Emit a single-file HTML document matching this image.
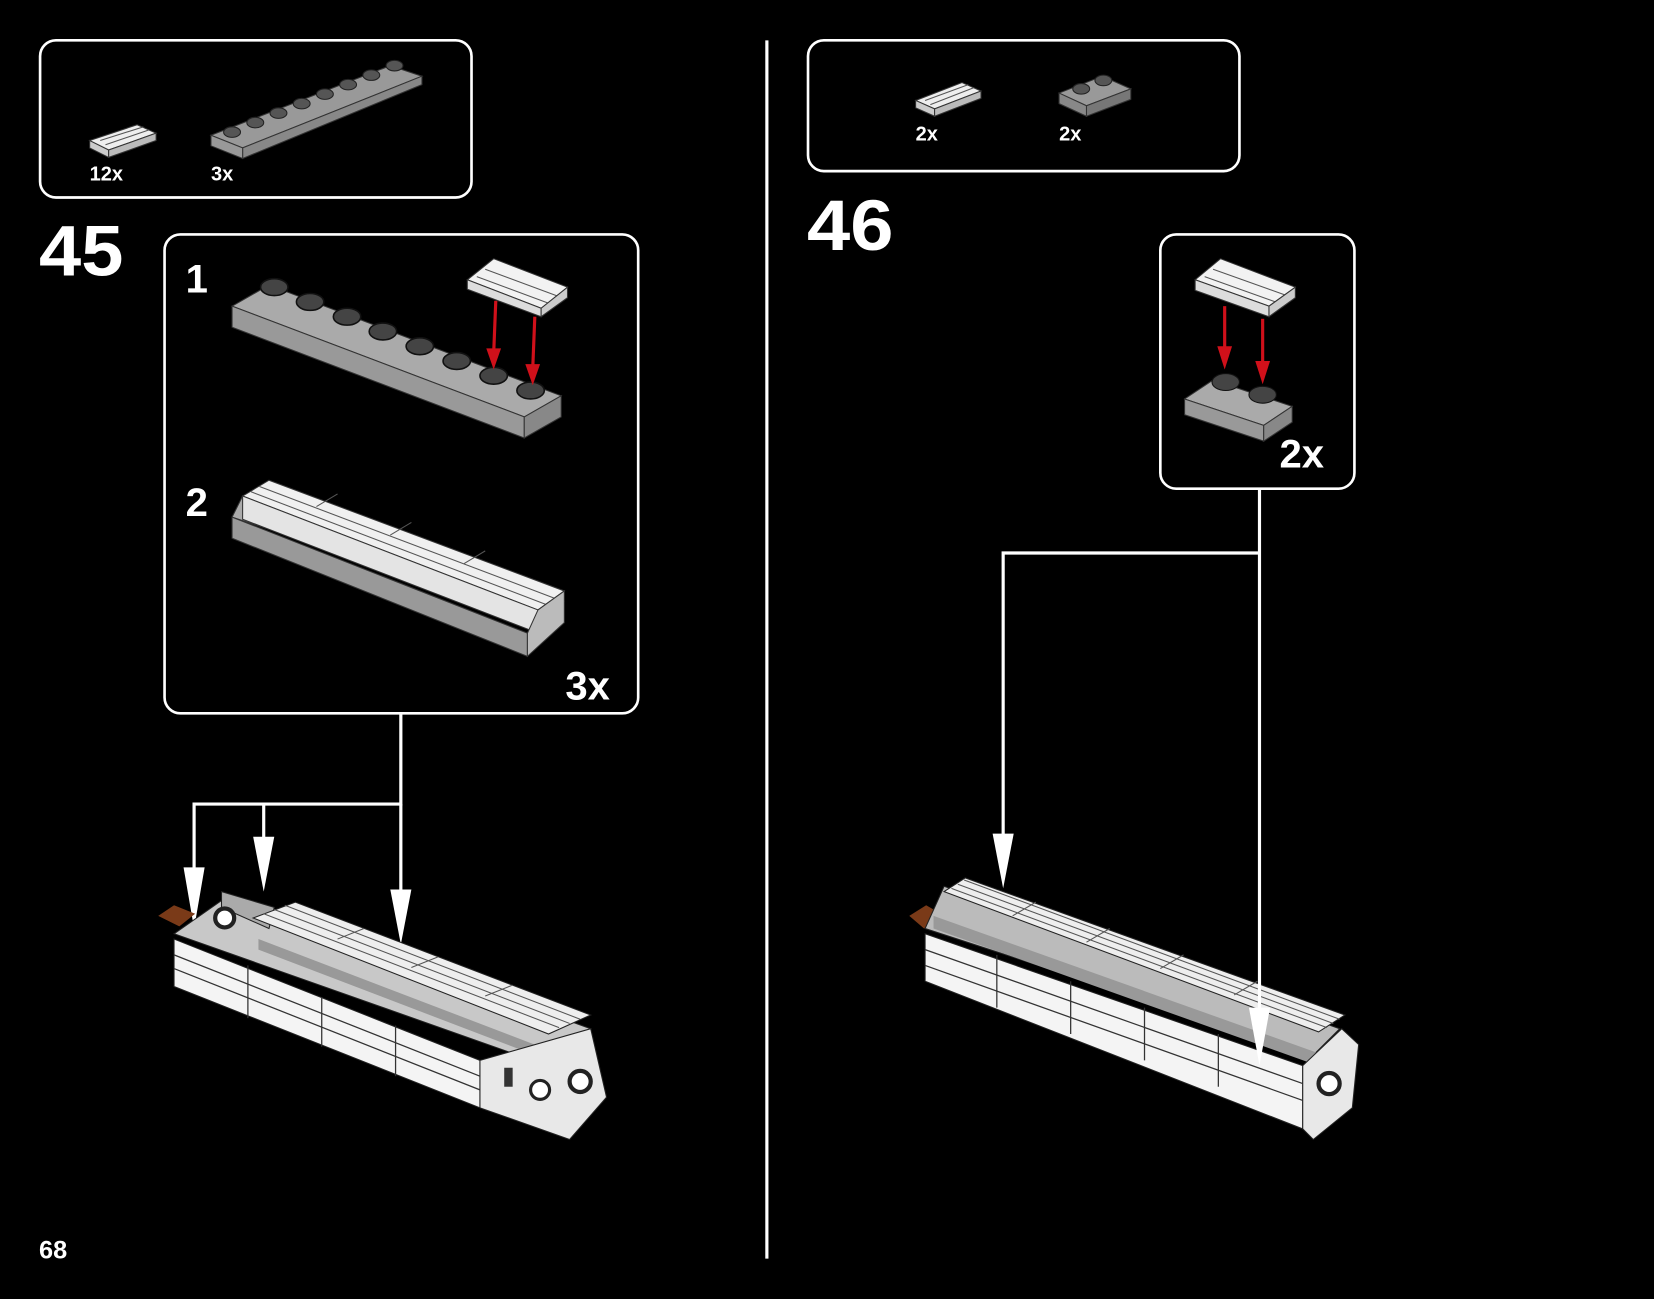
<!DOCTYPE html>
<html><head><meta charset="utf-8"><style>
html,body{margin:0;padding:0;background:#000;}
svg{display:block}
text{font-family:"Liberation Sans",sans-serif;font-weight:bold;fill:#fff}
</style></head><body>
<svg width="1654" height="1299" viewBox="0 0 1568 1231" xmlns="http://www.w3.org/2000/svg">
<rect width="1568" height="1231" fill="#000"/>
<line x1="727" y1="38" x2="727" y2="1193" stroke="#fff" stroke-width="3"/>
<!-- left parts box -->
<rect x="38" y="38" width="409" height="149" rx="15" fill="none" stroke="#fff" stroke-width="2.5"/>
<polygon points="85,133 130,118 148,126 103,142" fill="#eee" stroke="#333"/>
<g stroke="#555" stroke-width="1"><line x1="95" y1="133" x2="136" y2="120"/><line x1="100" y1="137" x2="141" y2="123"/></g>
<polygon points="85,133 103,142 103,149 85,140" fill="#ccc" stroke="#333"/>
<polygon points="103,142 148,126 148,133 103,149" fill="#bbb" stroke="#333"/>
<text x="85" y="171" font-size="19">12x</text>
<polygon points="200,128 370,62 400,72 230,140" fill="#999" stroke="#333"/>
<polygon points="230,140 400,72 400,80 230,150" fill="#888" stroke="#333"/>
<polygon points="200,128 230,140 230,150 200,138" fill="#999" stroke="#333"/>
<g fill="#555" stroke="#222"><ellipse cx="220" cy="125" rx="8" ry="5"/><ellipse cx="242" cy="116" rx="8" ry="5"/><ellipse cx="264" cy="107" rx="8" ry="5"/><ellipse cx="286" cy="98" rx="8" ry="5"/><ellipse cx="308" cy="89" rx="8" ry="5"/><ellipse cx="330" cy="80" rx="8" ry="5"/><ellipse cx="352" cy="71" rx="8" ry="5"/><ellipse cx="374" cy="62" rx="8" ry="5"/></g>
<text x="200" y="171" font-size="19">3x</text>
<text x="37" y="261" font-size="68" textLength="80" lengthAdjust="spacingAndGlyphs">45</text>
<!-- step box -->
<rect x="156" y="222" width="449" height="454" rx="15" fill="none" stroke="#fff" stroke-width="2.5"/>
<text x="176" y="277" font-size="38">1</text>
<text x="176" y="489" font-size="38">2</text>
<polygon points="220,290 255,270 532,375 497,395" fill="#aaa" stroke="#333"/>
<polygon points="220,290 497,395 497,415 220,310" fill="#999" stroke="#333"/>
<polygon points="497,395 532,375 532,395 497,415" fill="#888" stroke="#333"/>
<g fill="#444" stroke="#111" stroke-width="1.5"><ellipse cx="260" cy="272" rx="13" ry="8"/><ellipse cx="294" cy="286" rx="13" ry="8"/><ellipse cx="329" cy="300" rx="13" ry="8"/><ellipse cx="363" cy="314" rx="13" ry="8"/><ellipse cx="398" cy="328" rx="13" ry="8"/><ellipse cx="433" cy="342" rx="13" ry="8"/><ellipse cx="468" cy="356" rx="13" ry="8"/><ellipse cx="503" cy="370" rx="13" ry="8"/></g>
<polygon points="443,265 468,245 538,272 513,292" fill="#f2f2f2" stroke="#333"/>
<g stroke="#555"><line x1="452" y1="262" x2="522" y2="288"/><line x1="460" y1="255" x2="530" y2="281"/></g>
<polygon points="443,265 513,292 513,300 443,274" fill="#ddd" stroke="#333"/>
<polygon points="513,292 538,272 538,282 513,300" fill="#ccc" stroke="#333"/>
<g stroke="#d0101a" stroke-width="3"><line x1="470" y1="285" x2="468" y2="335"/><line x1="507" y1="300" x2="505" y2="350"/></g>
<polygon points="461,330 475,330 468,350" fill="#d0101a"/><polygon points="498,345 512,345 505,365" fill="#d0101a"/>
<polygon points="220,490 230,470 535,570 525,590" fill="#aaa" stroke="#333"/>
<polygon points="220,490 500,600 500,622 220,510" fill="#999" stroke="#333"/>
<polygon points="230,470 255,455 535,560 510,578" fill="#f0f0f0" stroke="#333"/>
<g stroke="#555"><line x1="238" y1="466" x2="518" y2="573"/><line x1="246" y1="461" x2="526" y2="567"/><line x1="300" y1="480" x2="320" y2="468"/><line x1="370" y1="507" x2="390" y2="495"/><line x1="440" y1="534" x2="460" y2="522"/></g>
<polygon points="230,470 510,578 510,600 230,492" fill="#e4e4e4" stroke="#333"/>
<polygon points="510,578 535,560 535,590 500,622 500,600" fill="#bbb" stroke="#333"/>
<text x="536" y="663" font-size="38">3x</text>
<g stroke="#fff" stroke-width="3" fill="none"><polyline points="380,676 380,762 184,762 184,860"/><line x1="250" y1="762" x2="250" y2="825"/><line x1="380" y1="762" x2="380" y2="875"/></g>
<g fill="#fff"><polygon points="174,822 194,822 184,880"/><polygon points="240,793 260,793 250,845"/><polygon points="370,843 390,843 380,895"/></g>
<!-- left model -->
<polygon points="150,868 165,858 185,866 170,878" fill="#7a3a18"/>
<polygon points="165,885 215,850 560,975 505,1005" fill="#c8c8c8" stroke="#222"/>
<polygon points="210,845 260,860 255,880 210,860" fill="#aaa" stroke="#222"/>
<polygon points="240,870 280,855 560,962 520,980" fill="#eee" stroke="#222"/>
<g stroke="#555"><line x1="250" y1="866" x2="530" y2="974"/><line x1="260" y1="862" x2="540" y2="970"/><line x1="270" y1="858" x2="550" y2="966"/><line x1="320" y1="890" x2="345" y2="880"/><line x1="390" y1="917" x2="415" y2="907"/><line x1="460" y1="944" x2="485" y2="934"/></g>
<polygon points="245,890 520,995 520,1005 245,900" fill="#999"/>
<polygon points="165,890 455,1005 455,1050 165,935" fill="#f4f4f4" stroke="#222"/>
<polygon points="455,1005 560,975 575,1040 540,1080 455,1050" fill="#e8e8e8" stroke="#222"/>
<g stroke="#333" stroke-width="1.2"><line x1="165" y1="905" x2="455" y2="1020"/><line x1="165" y1="918" x2="455" y2="1033"/><line x1="235" y1="915" x2="235" y2="965"/><line x1="305" y1="945" x2="305" y2="992"/><line x1="375" y1="972" x2="375" y2="1020"/></g>
<rect x="478" y="1012" width="8" height="18" fill="#333"/>
<circle cx="512" cy="1033" r="9" fill="#fff" stroke="#222" stroke-width="3"/>
<circle cx="550" cy="1025" r="10" fill="#fff" stroke="#222" stroke-width="4"/>
<circle cx="213" cy="870" r="9" fill="#fff" stroke="#222" stroke-width="4"/>
<!-- right parts box -->
<rect x="766" y="38" width="409" height="124" rx="15" fill="none" stroke="#fff" stroke-width="2.5"/>
<polygon points="868,95 912,78 930,86 886,103" fill="#eee" stroke="#333"/>
<g stroke="#555"><line x1="877" y1="95" x2="918" y2="80"/><line x1="882" y1="99" x2="923" y2="83"/></g>
<polygon points="868,95 886,103 886,110 868,102" fill="#ccc" stroke="#333"/>
<polygon points="886,103 930,86 930,93 886,110" fill="#bbb" stroke="#333"/>
<text x="868" y="133" font-size="19">2x</text>
<polygon points="1004,88 1045,72 1072,84 1030,100" fill="#999" stroke="#333"/>
<polygon points="1004,88 1030,100 1030,110 1004,98" fill="#888" stroke="#333"/>
<polygon points="1030,100 1072,84 1072,94 1030,110" fill="#777" stroke="#333"/>
<ellipse cx="1025" cy="84" rx="8" ry="5" fill="#555" stroke="#222"/><ellipse cx="1046" cy="76" rx="8" ry="5" fill="#555" stroke="#222"/>
<text x="1004" y="133" font-size="19">2x</text>
<text x="765" y="237" font-size="68" textLength="82" lengthAdjust="spacingAndGlyphs">46</text>
<rect x="1100" y="222" width="184" height="241" rx="15" fill="none" stroke="#fff" stroke-width="2.5"/>
<polygon points="1133,265 1157,245 1228,272 1203,290" fill="#f2f2f2" stroke="#333"/>
<g stroke="#555"><line x1="1142" y1="262" x2="1212" y2="287"/><line x1="1150" y1="255" x2="1220" y2="280"/></g>
<polygon points="1133,265 1203,290 1203,300 1133,275" fill="#ddd" stroke="#333"/>
<polygon points="1203,290 1228,272 1228,282 1203,300" fill="#ccc" stroke="#333"/>
<polygon points="1123,378 1150,360 1225,385 1198,403" fill="#aaa" stroke="#333"/>
<polygon points="1123,378 1198,403 1198,418 1123,393" fill="#999" stroke="#333"/>
<polygon points="1198,403 1225,385 1225,400 1198,418" fill="#888" stroke="#333"/>
<ellipse cx="1162" cy="362" rx="13" ry="8" fill="#444" stroke="#111"/><ellipse cx="1197" cy="374" rx="13" ry="8" fill="#444" stroke="#111"/>
<g stroke="#d0101a" stroke-width="3"><line x1="1161" y1="290" x2="1161" y2="330"/><line x1="1197" y1="302" x2="1197" y2="345"/></g>
<polygon points="1154,328 1168,328 1161,350" fill="#d0101a"/><polygon points="1190,342 1204,342 1197,364" fill="#d0101a"/>
<text x="1213" y="443" font-size="38">2x</text>
<!-- right model -->
<polygon points="862,868 878,858 892,866 876,880" fill="#7a3a18"/>
<polygon points="877,880 895,840 1270,975 1245,1000" fill="#bbb" stroke="#222"/>
<polygon points="895,845 915,832 1275,962 1250,978" fill="#eee" stroke="#222"/>
<g stroke="#555"><line x1="902" y1="842" x2="1258" y2="974"/><line x1="908" y1="838" x2="1264" y2="970"/><line x1="914" y1="834" x2="1270" y2="966"/><line x1="960" y1="868" x2="982" y2="855"/><line x1="1030" y1="893" x2="1052" y2="880"/><line x1="1100" y1="918" x2="1122" y2="905"/><line x1="1170" y1="943" x2="1192" y2="930"/></g>
<polygon points="885,868 1255,1000 1255,1012 885,880" fill="#999"/>
<polygon points="877,885 1235,1010 1235,1070 877,930" fill="#f4f4f4" stroke="#222"/>
<polygon points="1235,1010 1272,975 1288,990 1282,1050 1245,1080 1235,1070" fill="#e8e8e8" stroke="#222"/>
<g stroke="#333" stroke-width="1.2"><line x1="877" y1="900" x2="1235" y2="1027"/><line x1="877" y1="915" x2="1235" y2="1043"/><line x1="945" y1="905" x2="945" y2="955"/><line x1="1015" y1="930" x2="1015" y2="980"/><line x1="1085" y1="955" x2="1085" y2="1005"/><line x1="1155" y1="980" x2="1155" y2="1030"/></g>
<circle cx="1260" cy="1027" r="10" fill="#fff" stroke="#222" stroke-width="4"/>
<g stroke="#fff" stroke-width="3" fill="none"><polyline points="1194,463 1194,990"/><polyline points="1194,524 951,524 951,820"/></g>
<polygon points="941,790 961,790 951,842" fill="#fff"/>
<polygon points="1184,955 1204,955 1194,1010" fill="#fff"/>
<text x="37" y="1193" font-size="24">68</text>
</svg>
</body></html>
